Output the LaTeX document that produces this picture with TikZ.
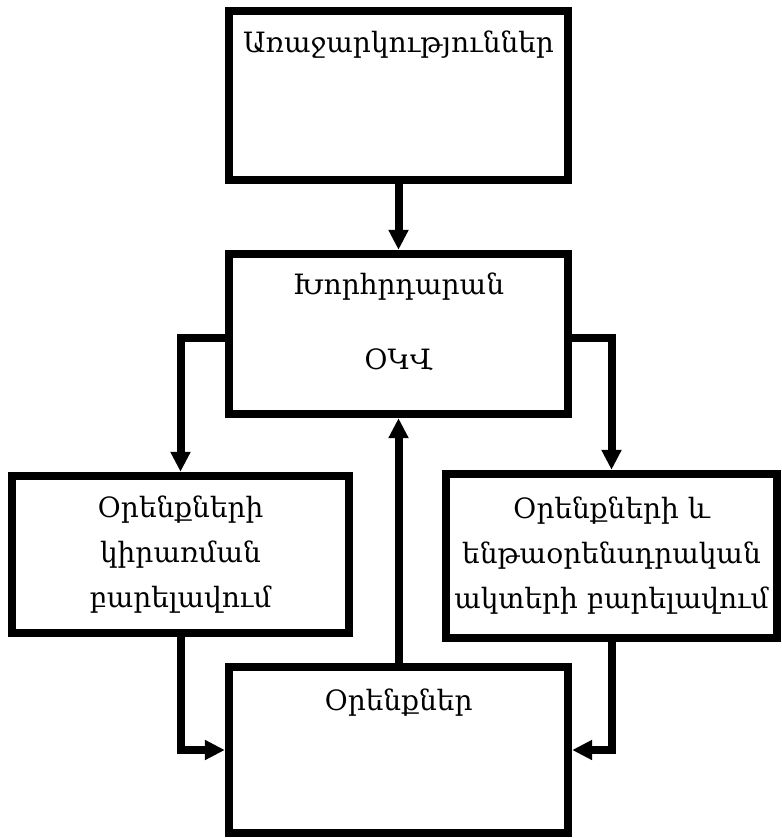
\documentclass[tikz,border=0pt]{standalone}
\usepackage{fontspec}
\setmainfont{DejaVu Serif}
\usetikzlibrary{positioning,arrows.meta}

\begin{document}
\begin{tikzpicture}[x=0.5pt,y=-0.5pt,font=\fontsize{14}{22.5}\selectfont,
  box/.style={draw,line width=4.2pt,inner sep=2pt,align=center},
  txt/.style={inner sep=0pt,anchor=base},
  conn/.style={line width=4pt,-{Triangle[length=10pt,width=9.5pt]}}]
  \useasboundingbox (0,0) rectangle (781,838);
  \node[box,minimum width=169.5pt,minimum height=84.5pt] (sug) at (398.5,95.5) {};
  \node[txt] (sugtxt) at (398.5,53) {Առաջարկություններ};
  \node[box,minimum width=169.5pt,minimum height=80pt] (parl) at (398.5,334) {};
  \node[txt] (parltxt) at (398.5,295) {Խորհրդարան};
  \node[txt] (okvtxt) at (398.5,370) {ՕԿՎ};
  \node[box,minimum width=168.5pt,minimum height=78.5pt] (apply) at (180.5,554.5) {Օրենքների\\կիրառման\\բարելավում};
  \node[box,minimum width=165.5pt,minimum height=82pt] (subleg) at (611.5,556) {Օրենքների և\\ենթաօրենսդրական\\ակտերի բարելավում};
  \node[box,minimum width=169.5pt,minimum height=83pt] (laws) at (398.5,750) {};
  \node[txt] (lawstxt) at (398.5,710) {Օրենքներ};
  \draw[conn] (sug) -- (parl);
  \draw[conn] (laws) -- (parl);
  \draw[conn] ([yshift=-2pt]parl.west) -| (apply.north);
  \draw[conn] ([yshift=-2pt]parl.east) -| (subleg.north);
  \draw[conn] (apply.south) |- (laws.west);
  \draw[conn] (subleg.south) |- (laws.east);
\end{tikzpicture}
\end{document}
